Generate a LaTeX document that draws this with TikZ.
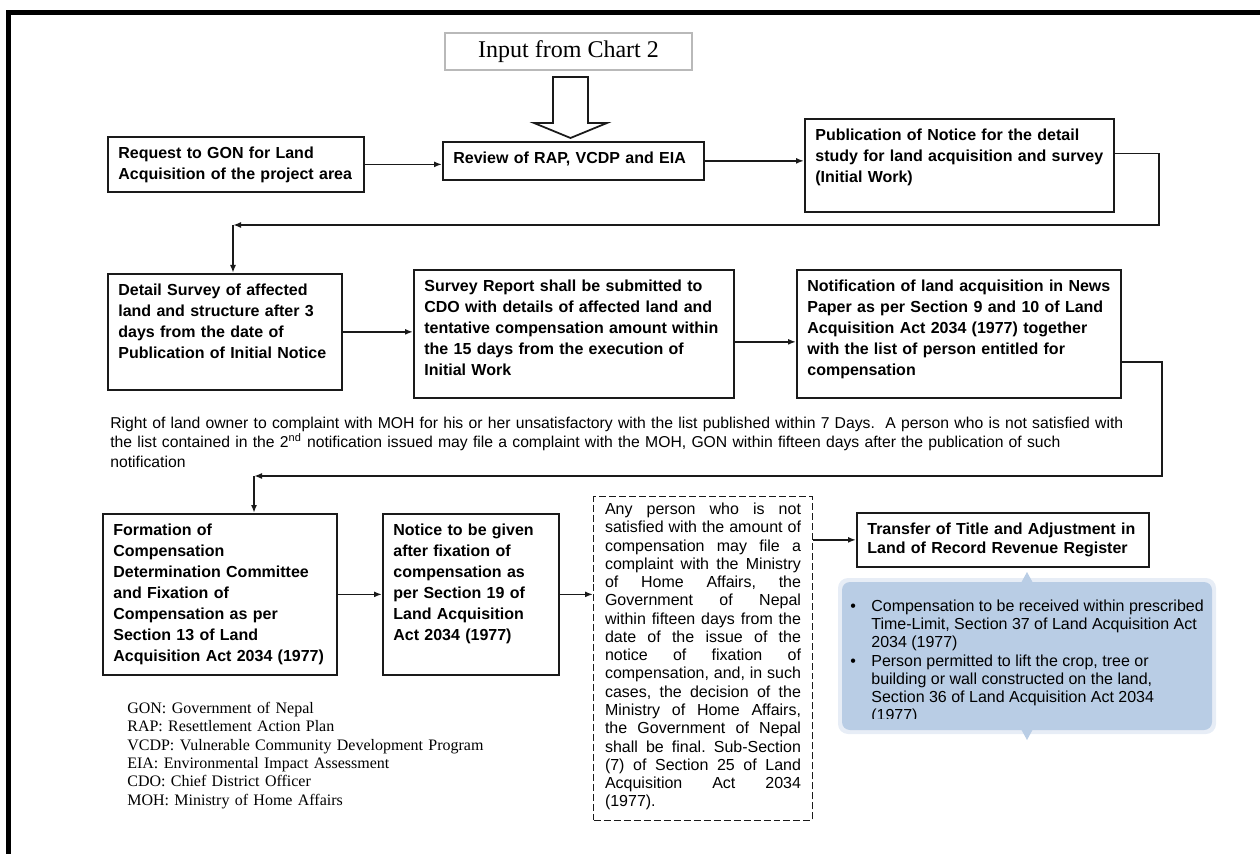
\documentclass[tikz,border=0pt]{standalone}
\usepackage{fontspec}
\setmainfont{Liberation Serif}
\setsansfont{Liberation Sans}
\usetikzlibrary{arrows.meta, calc}
\definecolor{inkline}{HTML}{1A1A1A}
\definecolor{notefill}{HTML}{B9CDE5}

\tikzset{
  stepbox/.style={draw=inkline, line width=1pt, anchor=north west, align=left,
    font=\sffamily\bfseries\fontsize{9.1}{11.95}\selectfont,
    inner xsep=0.21cm, inner ysep=0.2cm, text height=0.24cm},
  notebox/.style={draw=inkline, line width=0.6pt, dash pattern=on 0.14cm off 0.06cm,
    anchor=north west, inner xsep=0.23cm, inner ysep=0.12cm, text height=0.24cm,
    font=\sffamily\fontsize{9.1}{10.4}\selectfont},
  flow/.style={draw=inkline, line width=0.9pt, -{Latex[length=0.16cm,width=0.12cm]}},
}

\begin{document}
\begin{tikzpicture}[x=0.02cm, y=-0.02cm]
  \useasboundingbox (0,0) rectangle (1260,854);
  % heavy frame, top and left only
  \draw[line width=0.1cm, line join=miter] (8.5,854) -- (8.5,12.5) -- (1260,12.5);

  % feed from the previous chart
  \node[draw=gray!55, line width=1pt, minimum width=4.94cm, minimum height=0.74cm,
        font=\fontsize{13.66}{16}\selectfont] (feed) at (568.5,51.5) {Input from Chart 2};
  \draw[draw=inkline, line width=1pt, fill=white]
    (553,77) -- (588,77) -- (588,123) -- (607,123) -- (570.5,138) -- (534,123) -- (553,123) -- cycle;

  % first row
  \node[stepbox, text width=4.7cm,  text depth=0.46cm] (request) at (107,136)
    {Request to GON for Land\\Acquisition of the project area};
  \node[stepbox, text width=4.8cm,  text depth=0.12cm] (review) at (442,141)
    {Review of RAP, VCDP and EIA};
  \node[stepbox, text width=5.76cm, text depth=1.22cm] (notice) at (804,118)
    {Publication of Notice for the detail\\study for land acquisition and survey\\(Initial Work)};

  % second row
  \node[stepbox, text width=4.26cm, text depth=1.68cm] (survey) at (107,273)
    {Detail Survey of affected\\land and structure after 3\\days from the date of\\Publication of Initial Notice};
  \node[stepbox, text width=5.98cm, text depth=1.92cm] (report) at (413,269)
    {Survey Report shall be submitted to\\CDO with details of affected land and\\tentative compensation amount within\\the 15 days from the execution of\\Initial Work};
  \node[stepbox, text width=6.06cm, text depth=1.92cm] (gazette) at (796,269)
    {Notification of land acquisition in News\\Paper as per Section 9 and 10 of Land\\Acquisition Act 2034 (1977) together\\with the list of person entitled for\\compensation};

  \node[anchor=base west, align=left, inner sep=0, text width=21.5cm,
        font=\sffamily\fontsize{8.95}{11.38}\selectfont] (objection) at (110,428)
    {Right of land owner to complaint with MOH for his or her unsatisfactory with the list published within 7 Days.\ \ A person who is not satisfied with\\
     the list contained in the 2\textsuperscript{nd} notification issued may file a complaint with the MOH, GON within fifteen days after the publication of such\\
     notification};

  % third row
  \node[stepbox, text width=4.26cm, text depth=2.58cm] (committee) at (102,513)
    {Formation of\\Compensation\\Determination Committee\\and Fixation of\\Compensation as per\\Section 13 of Land\\Acquisition Act 2034 (1977)};
  \node[stepbox, text width=3.1cm,  text depth=2.58cm] (fixation) at (382,513)
    {Notice to be given\\after fixation of\\compensation as\\per Section 19 of\\Land Acquisition\\Act 2034 (1977)};
  \node[notebox, text depth=6cm] (appeal) at (593,496)
    {\parbox[t]{3.92cm}{\frenchspacing\tolerance=9999 \hyphenpenalty=10000
     Any person who is not\linebreak satisfied with the amount of\linebreak
     compensation may file a\linebreak complaint with the Ministry\linebreak
     of Home Affairs, the\linebreak Government of Nepal\linebreak
     within fifteen days from the\linebreak date of the issue of the\linebreak
     notice of fixation of\linebreak compensation, and, in such\linebreak
     cases, the decision of the\linebreak Ministry of Home Affairs,\linebreak
     the Government of Nepal\linebreak shall be final. Sub-Section\linebreak
     (7) of Section 25 of Land\linebreak Acquisition Act 2034\linebreak (1977).}};
  \node[stepbox, text width=5.42cm, text depth=0.44cm,
        font=\sffamily\bfseries\fontsize{9.1}{10.8}\selectfont] (transfer) at (856,512)
    {Transfer of Title and Adjustment in\\Land of Record Revenue Register};

  % blue call-out under the last step
  \fill[notefill!35, rounded corners=0.2cm] (838,578) rectangle (1216,734);
  \fill[notefill, rounded corners=0.16cm] (842,582) rectangle (1212,730);
  \fill[notefill] (1021,583) -- (1027,572) -- (1033,583) -- cycle;
  \fill[notefill] (1021,729) -- (1027,740) -- (1033,729) -- cycle;
  \begin{scope}
    \clip (842,582) rectangle (1212,718);
    \node[anchor=north west, inner sep=0, text height=0.24cm,
          font=\sffamily\fontsize{9.1}{10.4}\selectfont] (limits) at (850,599)
      {\begin{tabular}[t]{@{}p{0.42cm}@{}p{6.8cm}@{}}
         \textbullet & Compensation to be received within prescribed\newline
                       Time-Limit, Section 37 of Land Acquisition Act\newline 2034 (1977)\\
         \textbullet & Person permitted to lift the crop, tree or\newline
                       building or wall constructed on the land,\newline
                       Section 36 of Land Acquisition Act 2034\newline (1977)
       \end{tabular}};
  \end{scope}

  % abbreviations
  \node[anchor=base west, align=left, inner sep=0, text width=8cm,
        font=\fontsize{9.1}{10.45}\selectfont] (legend) at (127,713.3)
    {GON: Government of Nepal\\RAP: Resettlement Action Plan\\VCDP: Vulnerable Community Development Program\\EIA: Environmental Impact Assessment\\CDO: Chief District Officer\\MOH: Ministry of Home Affairs};

  % connectors
  \coordinate (turnA) at (233,225);
  \coordinate (turnB) at (254,476);
  \draw[flow] (request.east) -- (request.east -| review.west);
  \draw[flow] (review.east) -- (review.east -| notice.west);
  \draw[flow] ($(notice.east)+(0,-12)$) -- ++(44,0) |- (turnA);
  \draw[flow] (turnA) -- (turnA |- survey.north);
  \draw[flow] (survey.east) -- (survey.east -| report.west);
  \draw[flow] ($(report.east)+(0,8)$) -- ($(report.east -| gazette.west)+(0,8)$);
  \draw[flow] ($(gazette.east)+(0,28)$) -- ++(40,0) |- (turnB);
  \draw[flow] (turnB) -- (turnB |- committee.north);
  \draw[flow] (committee.east) -- (committee.east -| fixation.west);
  \draw[flow] (fixation.east) -- (fixation.east -| appeal.west);
  \draw[flow] (transfer.west -| appeal.east) -- (transfer.west);
\end{tikzpicture}
\end{document}
